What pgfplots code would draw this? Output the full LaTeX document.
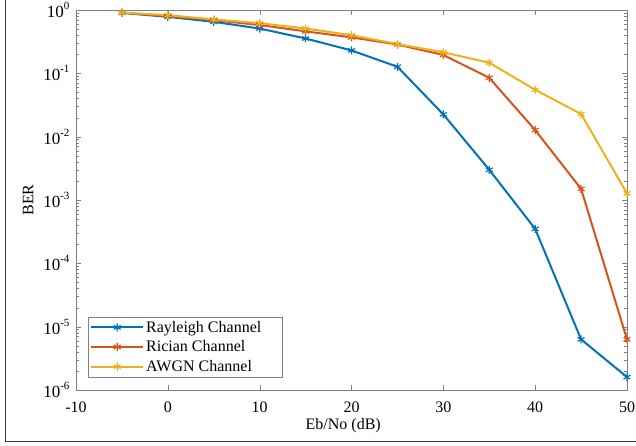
\documentclass[border=0pt]{standalone}
\usepackage{fontspec}
\setmainfont{Liberation Serif}
\usepackage{pgfplots}
\pgfplotsset{compat=1.18}
\definecolor{mblue}{rgb}{0,0.447,0.741}
\definecolor{mred}{rgb}{0.85,0.325,0.098}
\definecolor{myel}{rgb}{0.929,0.694,0.125}
\definecolor{axgray}{gray}{0.5}
\newcommand{\tp}[1]{10\raisebox{1.0ex}{\fontsize{11}{11}\selectfont #1}}

\begin{document}
\begin{tikzpicture}
\useasboundingbox (0pt,0pt) rectangle (636pt,-446pt);
\draw[black!80, line width=1pt] (5pt,0pt) -- (5pt,-441pt) -- (636pt,-441pt);
\begin{axis}[
  at={(76pt,-390pt)}, anchor=south west,
  scale only axis, width=551pt, height=380pt,
  ymode=log, xmin=-10, xmax=50, ymin=1e-6, ymax=1,
  xtick={-10,0,...,50},
  xticklabels={-10,0,10,20,30,40,50},
  ytick={1e-6,1e-5,1e-4,1e-3,1e-2,1e-1,1},
  yticklabels={\tp{-6},\tp{-5},\tp{-4},\tp{-3},\tp{-2},\tp{-1},\tp{0}},
  xticklabel style={font=\fontsize{16}{18}\selectfont, yshift=-8pt},
  yticklabel style={font=\fontsize{17}{19}\selectfont, xshift=-3pt},
  label style={font=\fontsize{16}{18}\selectfont},
  axis line style={axgray},
  tick style={axgray},
  major tick length=5pt, minor tick length=3pt,
  tick align=inside,
  xlabel={Eb/No (dB)}, ylabel={BER},
  xlabel style={at={(axis description cs:0.485,-0.094)}, anchor=center},
  ylabel style={at={(axis description cs:-0.087,0.5)}, anchor=center, rotate=0},
  legend style={at={(axis description cs:0.0218,0.034)}, anchor=south west,
    draw=axgray, font=\fontsize{16}{18}\selectfont, cells={anchor=west},
    row sep=3pt, inner sep=2pt},
  legend image code/.code={\draw[#1,mark repeat=2,mark phase=2] plot coordinates {(0pt,0pt)(26pt,0pt)(52pt,0pt)};},
  every axis plot/.append style={line width=2pt, mark=asterisk, mark size=4pt, mark options={line width=1.2pt}},
]
\addplot[mblue] coordinates {(-5,0.9)(0,0.78)(5,0.65)(10,0.51)(15,0.355)(20,0.23)(25,0.127)(30,0.0225)(35,0.003)(40,3.5e-4)(45,6.3e-6)(50,1.6e-6)};
\addlegendentry{\makebox[132pt][l]{Rayleigh Channel}}
\addplot[mred] coordinates {(-5,0.905)(0,0.8)(5,0.69)(10,0.58)(15,0.46)(20,0.37)(25,0.285)(30,0.195)(35,0.085)(40,0.0127)(45,0.0015)(50,6.3e-6)};
\addlegendentry{Rician Channel}
\addplot[myel] coordinates {(-5,0.91)(0,0.83)(5,0.71)(10,0.62)(15,0.51)(20,0.40)(25,0.29)(30,0.215)(35,0.147)(40,0.055)(45,0.0228)(50,1.27e-3)};
\addlegendentry{AWGN Channel}
\end{axis}
\end{tikzpicture}
\end{document}
